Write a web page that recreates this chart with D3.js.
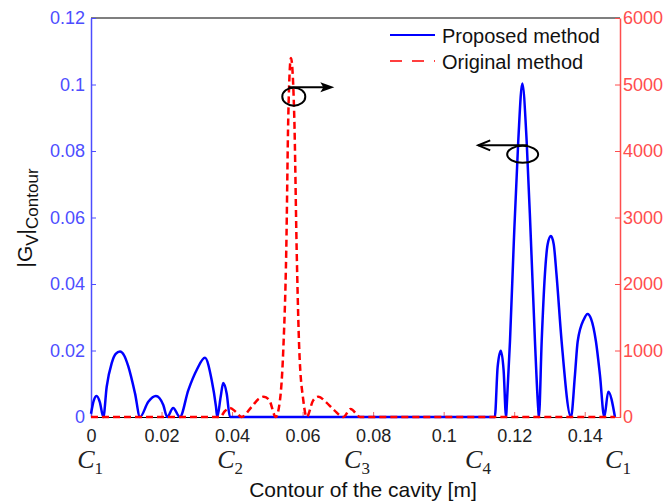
<!DOCTYPE html>
<html>
<head>
<meta charset="utf-8">
<script src="https://cdn.jsdelivr.net/npm/d3@7"></script>
<style>
  body { margin: 0; background: #fff; }
</style>
</head>
<body>
<div id="chart"></div>
<script>
// proposed method, left axis |Gv|
var proposedX = [0, 0.0008, 0.0016, 0.0025, 0.0035, 0.00445, 0.00587, 0.0070, 0.00822, 0.0094, 0.01058, 0.01248, 0.01389,
    0.01625, 0.0184, 0.0205, 0.0216, 0.0233, 0.0252, 0.0276, 0.0300, 0.0323, 0.0342, 0.03544, 0.0358,
    0.03677, 0.0375, 0.03847, 0.0394, 0.1145, 0.1153, 0.1162, 0.1170, 0.1177, 0.11786, 0.1188, 0.1199,
    0.12115, 0.1223, 0.12353, 0.12475, 0.12589, 0.1268, 0.1270, 0.12779, 0.1287, 0.1295, 0.1304, 0.1312,
    0.1320, 0.13345, 0.1361, 0.13723, 0.1380, 0.1398, 0.1408, 0.1418, 0.14318, 0.14431, 0.14554, 0.14667, 0.14857];
var proposedY = [0.001, 0.005, 0.0063, 0.0045, 0, 0.0091, 0.0162, 0.0190, 0.0197, 0.0185, 0.0152, 0.0071, 0,
    0.0046, 0.0063, 0.0036, 0, 0.0027, 0, 0.0081, 0.0142, 0.0178, 0.0112, 0.0031, 0,
    0.0061, 0.0102, 0.0071, 0, 0, 0.0150, 0.0199, 0.0140, 0, 0.0027, 0.0227, 0.0529,
    0.083, 0.1003, 0.083, 0.0529, 0.0227, 0.0027, 0, 0.0227, 0.0428, 0.0520, 0.0544, 0.0520,
    0.0428, 0.0227, 0, 0.0127, 0.0227, 0.0295, 0.031, 0.0295, 0.0227, 0.0127, 0, 0.0076, 0];

// original method, right axis
var originalX = [0, 0.0366, 0.0380, 0.0394, 0.0410, 0.0427, 0.0455, 0.0475, 0.0490, 0.0505, 0.0524,
    0.05359, 0.05452, 0.05537, 0.05594, 0.0567, 0.05764, 0.05832, 0.05906, 0.06019, 0.06116,
    0.0630, 0.0645, 0.0665, 0.0690, 0.0716, 0.0736, 0.0763, 0.1486];
var originalY = [0, 0, 90, 136, 80, 0, 150, 270, 306, 260, 0,
    256, 1008, 2512, 4512, 5400, 4512, 2512, 1008, 256, 0,
    250, 306, 230, 100, 0, 121, 0, 0];

var xTicks = [0, 0.02, 0.04, 0.06, 0.08, 0.1, 0.12, 0.14];
var leftTicks = [0, 0.02, 0.04, 0.06, 0.08, 0.1, 0.12];
var rightTicks = [0, 1000, 2000, 3000, 4000, 5000, 6000];
var contourNames = ["1", "2", "3", "4", "1"];
var contourPos = [-0.0011, 0.0386, 0.0746, 0.1089, 0.1486];

var svgWidth = 667, svgHeight = 503;
var margin = { top: 18, right: 47, bottom: 86, left: 91 };
var width = svgWidth - margin.left - margin.right;
var height = svgHeight - margin.top - margin.bottom;

var sans = "'Liberation Sans', Arial, sans-serif";
var blueAxis = "#4d4dff", redAxis = "#ff4d4d";

var svg = d3.select("#chart").append("svg")
    .attr("width", svgWidth)
    .attr("height", svgHeight)
    .style("font-family", sans);

var g = svg.append("g")
    .attr("transform", `translate(${margin.left}, ${margin.top})`);

var xScale = d3.scaleLinear().domain([0, 0.15]).range([0, width]);
var yLeft = d3.scaleLinear().domain([0, 0.12]).range([height, 0]);
var yRight = d3.scaleLinear().domain([0, 6000]).range([height, 0]);

// top border
g.append("line")
    .attr("x1", 0).attr("x2", width).attr("y1", 0).attr("y2", 0)
    .attr("stroke", "#000").attr("stroke-width", 1.2);

// bottom axis
var xAxis = g.append("g")
    .attr("transform", `translate(0, ${height})`)
    .call(d3.axisBottom(xScale).tickValues(xTicks).tickSizeInner(-5).tickSizeOuter(0)
        .tickFormat(d => d3.format("~g")(d)));
xAxis.select(".domain").attr("stroke", "#000");
xAxis.selectAll(".tick line").attr("stroke", "#e66");
xAxis.selectAll("text")
    .attr("y", 12)
    .attr("fill", "#222")
    .style("font-family", sans)
    .style("font-size", "18px");

// left axis
var lAxis = g.append("g")
    .call(d3.axisLeft(yLeft).tickValues(leftTicks).tickSizeInner(-5).tickSizeOuter(0)
        .tickFormat(d => d3.format("~g")(d)));
lAxis.select(".domain").attr("stroke", blueAxis).attr("stroke-width", 1.5);
lAxis.selectAll(".tick line").attr("stroke", blueAxis);
lAxis.selectAll("text")
    .attr("x", -6)
    .attr("fill", blueAxis)
    .style("font-family", sans)
    .style("font-size", "18px");

// right axis
var rAxis = g.append("g")
    .attr("transform", `translate(${width}, 0)`)
    .call(d3.axisRight(yRight).tickValues(rightTicks).tickSizeInner(-5).tickSizeOuter(0)
        .tickFormat(d3.format("d")));
rAxis.select(".domain").attr("stroke", redAxis).attr("stroke-width", 1.5);
rAxis.selectAll(".tick line").attr("stroke", redAxis);
rAxis.selectAll("text")
    .attr("x", 3)
    .attr("fill", redAxis)
    .style("font-family", sans)
    .style("font-size", "18px");

// curves
var blueLine = d3.line()
    .x((d, i) => xScale(proposedX[i]))
    .y(d => yLeft(d))
    .curve(d3.curveMonotoneX);

var redLine = d3.line()
    .x((d, i) => xScale(originalX[i]))
    .y(d => yRight(d))
    .curve(d3.curveMonotoneX);

g.append("path")
    .attr("d", blueLine(proposedY))
    .attr("fill", "none")
    .attr("stroke", "#0000ff")
    .attr("stroke-width", 2.5);

g.append("path")
    .attr("d", redLine(originalY))
    .attr("fill", "none")
    .attr("stroke", "#ff0000")
    .attr("stroke-width", 2.5)
    .attr("stroke-dasharray", "7,4");

// annotation ellipses and arrows
g.append("ellipse")
    .attr("cx", xScale(0.0575)).attr("cy", yRight(4817))
    .attr("rx", 11.5).attr("ry", 9)
    .attr("fill", "none").attr("stroke", "#000").attr("stroke-width", 2);
g.append("line")
    .attr("x1", xScale(0.0560)).attr("x2", xScale(0.0672))
    .attr("y1", yRight(4960)).attr("y2", yRight(4960))
    .attr("stroke", "#000").attr("stroke-width", 2);
g.append("path")
    .attr("d", `M${xScale(0.0690)},${yRight(4960)} l-14,-5 l3,5 l-3,5 z`)
    .attr("fill", "#000");

g.append("ellipse")
    .attr("cx", xScale(0.1224)).attr("cy", yLeft(0.079))
    .attr("rx", 15.5).attr("ry", 8.5)
    .attr("fill", "none").attr("stroke", "#000").attr("stroke-width", 2);
g.append("line")
    .attr("x1", xScale(0.1238)).attr("x2", xScale(0.1098))
    .attr("y1", yLeft(0.0817)).attr("y2", yLeft(0.0817))
    .attr("stroke", "#000").attr("stroke-width", 2);
g.append("path")
    .attr("d", `M${xScale(0.1098) + 12},${yLeft(0.0817) - 5} L${xScale(0.1098)},${yLeft(0.0817)} L${xScale(0.1098) + 12},${yLeft(0.0817) + 5}`)
    .attr("fill", "none").attr("stroke", "#000").attr("stroke-width", 2);

// contour point labels C1..C4
contourPos.forEach(function(p, i) {
    var t = g.append("text")
        .attr("x", xScale(p) - 10)
        .attr("y", height + 51)
        .style("font-family", "'Liberation Serif', 'Times New Roman', serif")
        .style("font-style", "italic")
        .style("font-size", "26px")
        .attr("fill", "#222");
    t.append("tspan").text("C");
    t.append("tspan")
        .attr("dy", 6)
        .style("font-style", "normal")
        .style("font-size", "17px")
        .text(contourNames[i]);
});

// legend
var legend = svg.append("g");
legend.append("line")
    .attr("x1", 390).attr("x2", 435).attr("y1", 35).attr("y2", 35)
    .attr("stroke", "#0000ff").attr("stroke-width", 2);
legend.append("text")
    .attr("x", 442).attr("y", 43)
    .style("font-size", "20px")
    .attr("fill", "#111")
    .text("Proposed method");
legend.append("line")
    .attr("x1", 390).attr("x2", 435).attr("y1", 61).attr("y2", 61)
    .attr("stroke", "#ff0000").attr("stroke-width", 1.5)
    .attr("stroke-dasharray", "12,10");
legend.append("text")
    .attr("x", 442).attr("y", 69)
    .style("font-size", "20px")
    .attr("fill", "#111")
    .text("Original method");

// axis titles
var yTitle = svg.append("text")
    .attr("transform", "translate(32, 218) rotate(-90)")
    .style("text-anchor", "middle")
    .style("font-size", "21px")
    .attr("fill", "#111");
yTitle.append("tspan").text("|G");
yTitle.append("tspan").attr("dy", 6).style("font-size", "17px").text("V");
yTitle.append("tspan").attr("dy", -6).text("|");
yTitle.append("tspan").attr("dy", 6).style("font-size", "17px").text("Contour");

svg.append("text")
    .attr("x", 363)
    .attr("y", 497)
    .style("text-anchor", "middle")
    .style("font-size", "21px")
    .attr("fill", "#111")
    .text("Contour of the cavity [m]");
</script>
</body>
</html>
